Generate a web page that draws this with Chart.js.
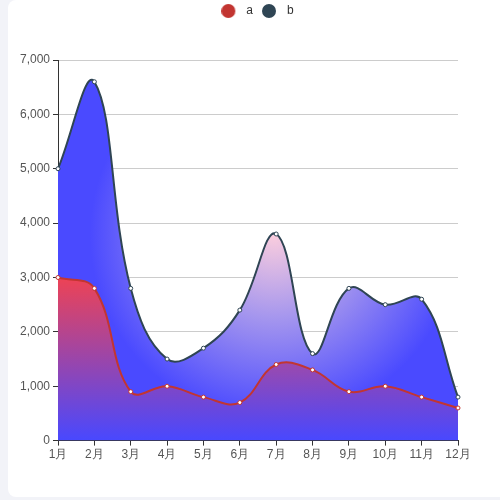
<!DOCTYPE html>
<html>
<head>
<meta charset="utf-8">
<script src="https://cdn.jsdelivr.net/npm/chart.js@4"></script>
<style>
  html, body { margin: 0; padding: 0; background: #f2f3f8; }
  body { width: 500px; height: 500px; position: relative; overflow: hidden; }
  .card { position: absolute; left: 8px; top: 0; width: 520px; height: 497px; background: #fff; border-radius: 8px; }
  #wrap { position: absolute; left: 0; top: -5px; width: 516px; height: 505px; }
</style>
</head>
<body>
<div class="card"></div>
<div id="wrap"><canvas id="lineChart"></canvas></div>
<script>
// data
const months = ['1月', '2月', '3月', '4月', '5月', '6月', '7月', '8月', '9月', '10月', '11月', '12月'];
const seriesA = [3000, 2800, 900, 1000, 800, 700, 1400, 1300, 900, 1000, 800, 600];
const seriesB = [5000, 6600, 2800, 1500, 1700, 2400, 3800, 1600, 2800, 2500, 2600, 800];
const yTicks = [0, 1000, 2000, 3000, 4000, 5000, 6000, 7000];

// gradient a: merah di atas -> biru di bawah
function gradA(context) {
    const chart = context.chart;
    const area = chart.chartArea;
    if (!area) return 'rgba(255,70,70,0.85)';
    const y = chart.scales.y;
    const top = y.getPixelForValue(Math.max(...seriesA));
    const g = chart.ctx.createLinearGradient(0, top, 0, area.bottom);
    g.addColorStop(0, 'rgba(255,66,66,0.9)');
    g.addColorStop(1, 'rgba(72,72,255,0.9)');
    return g;
}

// gradient b: radial, terang di sekitar puncak 7月
function gradB(context) {
    const chart = context.chart;
    const area = chart.chartArea;
    if (!area) return 'rgba(60,60,255,0.7)';
    const cx = area.left + (area.right - area.left) * 0.54;
    const cy = area.top + (area.bottom - area.top) * 0.46;
    const r = (area.right - area.left) * 0.46;
    const g = chart.ctx.createRadialGradient(cx, cy, 0, cx, cy, r);
    g.addColorStop(0, 'rgba(250,205,222,1)');
    g.addColorStop(0.45, 'rgba(165,150,238,1)');
    g.addColorStop(1, 'rgba(74,74,255,1)');
    return g;
}

// ikon bulat legend (canvas kecil)
function dotIcon(color) {
    const c = document.createElement('canvas');
    c.width = 20; c.height = 14;
    const x = c.getContext('2d');
    x.fillStyle = color;
    x.beginPath();
    x.arc(7, 7, 7, 0, Math.PI * 2);
    x.fill();
    return c;
}

// tambah jarak di bawah legend + geser legend ke kanan
const legendFix = {
    id: 'legendFix',
    beforeInit(chart) {
        const fit = chart.legend.fit;
        chart.legend.fit = function() {
            fit.bind(chart.legend)();
            this.height += 33;
        };
    },
    afterLayout(chart) {
        chart.legend.left += 29;
        chart.legend.right += 29;
    }
};

new Chart(document.getElementById('lineChart'), {
    type: 'line',
    data: {
        labels: months,
        datasets: [
            {
                label: 'a', data: seriesA,
                borderColor: '#c23531', borderWidth: 2,
                backgroundColor: gradA, fill: 'origin', tension: 0.4,
                pointRadius: 2, pointBackgroundColor: '#fff', pointBorderColor: '#c23531', pointBorderWidth: 1
            },
            {
                label: 'b', data: seriesB,
                borderColor: '#2f4554', borderWidth: 2,
                backgroundColor: gradB, fill: 'origin', tension: 0.4,
                pointRadius: 2, pointBackgroundColor: '#fff', pointBorderColor: '#2f4554', pointBorderWidth: 1
            }
        ]
    },
    options: {
        responsive: true, maintainAspectRatio: false, animation: false,
        layout: { padding: { left: 0, right: 58, top: 0, bottom: 36 } },
        plugins: {
            legend: {
                position: 'top',
                labels: {
                    usePointStyle: true, boxWidth: 12, boxHeight: 12, pointStyleWidth: 18,
                    color: '#333', font: { size: 12, family: 'Arial, Liberation Sans, sans-serif' }, padding: 10,
                    generateLabels(chart) {
                        return chart.data.datasets.map((ds, i) => ({
                            text: ds.label, fillStyle: ds.borderColor, strokeStyle: ds.borderColor,
                            lineWidth: 0, pointStyle: dotIcon(ds.borderColor), datasetIndex: i, fontColor: '#333'
                        }));
                    }
                }
            },
            tooltip: { enabled: false }
        },
        scales: {
            x: {
                offset: false,
                grid: { drawOnChartArea: false, drawTicks: true, tickLength: 5, tickColor: '#333' },
                border: { color: '#333', width: 1 },
                ticks: { color: '#555', font: { size: 12 }, padding: 2, maxRotation: 0, autoSkip: false }
            },
            y: {
                min: 0, max: 7000,
                afterFit(scale) { scale.width = 58; },
                afterBuildTicks(scale) { scale.ticks = yTicks.map(v => ({ value: v })); },
                grid: { color: '#ccc', drawTicks: true, tickLength: 5, tickColor: '#333' },
                border: { color: '#333', width: 1 },
                ticks: {
                    color: '#555', font: { size: 12 }, padding: 3,
                    callback: v => v.toLocaleString('en-US')
                }
            }
        }
    },
    plugins: [legendFix]
});
</script>
</body>
</html>
